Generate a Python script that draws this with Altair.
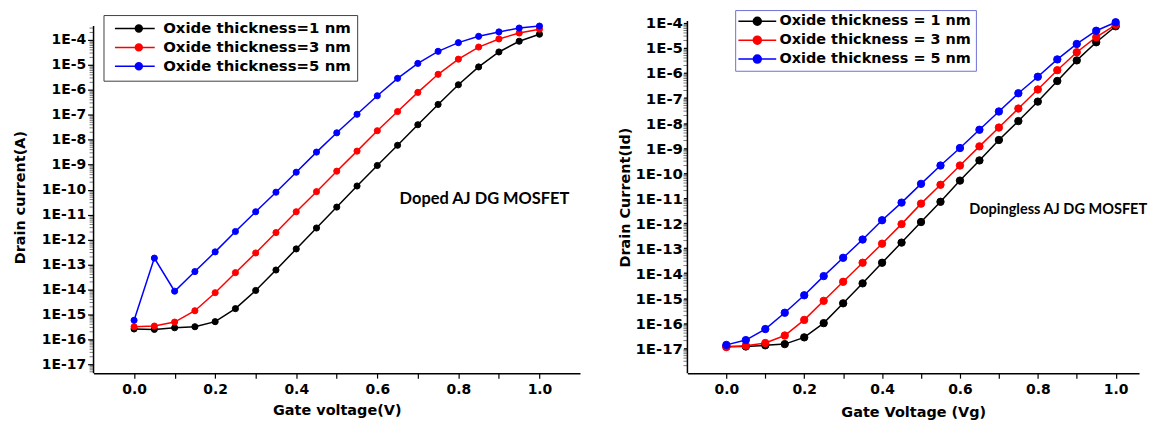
import altair as alt
import pandas as pd

# ---------------- data ----------------
gate_v = [0.0, 0.05, 0.1, 0.15, 0.2, 0.25, 0.3, 0.35, 0.4, 0.45, 0.5,
          0.55, 0.6, 0.65, 0.7, 0.75, 0.8, 0.85, 0.9, 0.95, 1.0]

left_names = ["Oxide thickness=1 nm", "Oxide thickness=3 nm", "Oxide thickness=5 nm"]
right_names = ["Oxide thickness = 1 nm", "Oxide thickness = 3 nm", "Oxide thickness = 5 nm"]
colors = ["#000000", "#ff0000", "#0000ff"]

left_1nm = [2.6e-16, 2.5e-16, 2.9e-16, 3.2e-16, 5.1e-16, 1.7e-15, 9.1e-15, 6.0e-14, 4.2e-13, 2.9e-12,
            2.0e-11, 1.4e-10, 9.3e-10, 6.0e-9, 4.0e-8, 2.6e-7, 1.6e-6, 8.3e-6, 3.3e-5, 8.9e-5, 1.7e-4]
left_3nm = [3.2e-16, 3.4e-16, 4.9e-16, 1.4e-15, 7.4e-15, 4.7e-14, 2.9e-13, 1.9e-12, 1.3e-11, 8.3e-11,
            5.5e-10, 3.5e-9, 2.3e-8, 1.35e-7, 7.9e-7, 4.2e-6, 1.7e-5, 5.2e-5, 1.1e-4, 1.9e-4, 2.7e-4]
left_5nm = [5.8e-16, 1.8e-13, 8.5e-15, 5.2e-14, 3.2e-13, 2.1e-12, 1.3e-11, 7.9e-11, 5.0e-10, 3.2e-9,
            1.9e-8, 1.05e-7, 5.8e-7, 2.9e-6, 1.15e-5, 3.5e-5, 7.8e-5, 1.4e-4, 2.1e-4, 3.0e-4, 3.6e-4]

right_1nm = [1.17e-17, 1.17e-17, 1.3e-17, 1.45e-17, 2.7e-17, 1.0e-16, 6.2e-16, 3.9e-15, 2.6e-14, 1.66e-13,
             1.1e-12, 7.1e-12, 5.0e-11, 3.2e-10, 2.1e-9, 1.2e-8, 7.2e-8, 4.8e-7, 3.2e-6, 1.7e-5, 7.4e-5]
right_3nm = [1.1e-17, 1.26e-17, 1.6e-17, 3.2e-17, 1.35e-16, 7.8e-16, 4.5e-15, 2.6e-14, 1.5e-13, 9.1e-13,
             6.0e-12, 3.4e-11, 2.0e-10, 1.17e-9, 6.6e-9, 3.8e-8, 2.2e-7, 1.3e-6, 6.8e-6, 2.7e-5, 8.5e-5]
right_5nm = [1.35e-17, 2.1e-17, 5.8e-17, 2.6e-16, 1.3e-15, 7.6e-15, 4.1e-14, 2.2e-13, 1.3e-12, 6.6e-12,
             3.7e-11, 2.0e-10, 1.0e-9, 5.4e-9, 2.9e-8, 1.55e-7, 7.1e-7, 3.5e-6, 1.45e-5, 4.9e-5, 1.07e-4]

y_ticks = [1e-4, 1e-5, 1e-6, 1e-7, 1e-8, 1e-9, 1e-10, 1e-11, 1e-12, 1e-13, 1e-14, 1e-15, 1e-16, 1e-17]
x_ticks = [0.0, 0.1, 0.2, 0.3, 0.4, 0.5, 0.6, 0.7, 0.8, 0.9, 1.0]
minor_mult = [2, 3, 4, 5, 6, 7, 8, 9]
minor_exp = list(range(-18, -3))

# axis line extents (x at left edge, y range)
left_axis_line = {"x": [-0.1], "y": [3.6e-4], "y2": [4.4e-18]}
right_axis_line = {"x": [-0.1], "y": [1.2e-4], "y2": [1e-18]}

left_note = {"x": [0.655], "y": [4.3e-11], "text": ["Doped AJ DG MOSFET"]}
right_note = {"x": [0.624], "y": [3.3e-12], "text": ["Dopingless AJ DG MOSFET"]}


def long_df(names, series):
    rows = []
    for name, vals in zip(names, series):
        for v, i in zip(gate_v, vals):
            rows.append({"Vg": v, "Id": i, "series": name})
    return pd.DataFrame(rows)


def panel(names, series, note, note_size, ydom, xdom, width, height, axis_line,
          ytitle, xtitle, ylab_size, tick_size, lab_pad, ttl_pad_y, ttl_pad_x, pt_size,
          leg_x, leg_y, leg_stroke, leg_font, leg_pad, sym_path, lab_off):
    df = long_df(names, series)
    xs = alt.Scale(domain=xdom, nice=False, zero=False)
    ys = alt.Scale(type="log", domain=ydom, nice=False)
    cs = alt.Scale(domain=names, range=colors)
    legend = alt.Legend(
        title=None, orient="none", legendX=leg_x, legendY=leg_y,
        direction="vertical", strokeColor=leg_stroke, fillColor="white",
        padding=leg_pad, labelFont="DejaVu Sans", labelFontWeight="bold",
        labelFontSize=leg_font, labelColor="black", labelLimit=400,
        symbolType=sym_path, symbolSize=100, symbolStrokeWidth=1.5,
        labelOffset=lab_off, rowPadding=3, cornerRadius=0,
    )
    xaxis = alt.Axis(
        values=x_ticks, title=xtitle,
        labelExpr="round(datum.value*10) % 2 == 0 ? format(datum.value, '.1f') : ''",
        labelFont="DejaVu Sans", labelFontWeight="bold", labelFontSize=14,
        labelColor="black", titleFont="DejaVu Sans", titleFontWeight="bold",
        titleFontSize=14.5, titleColor="black", tickSize=5, tickColor="black",
        tickWidth=1.2, domainColor="black", domainWidth=1.5, labelPadding=4,
        titlePadding=ttl_pad_x, grid=False, labelFlush=False,
    )
    yaxis = alt.Axis(
        values=y_ticks, title=ytitle, domain=False,
        labelExpr="'1E' + round(log(datum.value)/LN10)",
        labelFont="DejaVu Sans", labelFontWeight="bold", labelFontSize=ylab_size,
        labelColor="black", titleFont="DejaVu Sans", titleFontWeight="bold",
        titleFontSize=14.5, titleColor="black", tickSize=tick_size, tickColor="black",
        tickWidth=1.2, labelPadding=lab_pad,
        titlePadding=ttl_pad_y, grid=False, labelOverlap=False, labelFlush=False,
    )
    base = alt.Chart(df)
    lines = base.mark_line(strokeWidth=1.5).encode(
        x=alt.X("Vg:Q", scale=xs, axis=xaxis),
        y=alt.Y("Id:Q", scale=ys, axis=yaxis),
        stroke=alt.Stroke("series:N", scale=cs, legend=legend, sort=names),
    )
    points = base.mark_point(filled=True, size=pt_size, opacity=1, strokeWidth=1).encode(
        x=alt.X("Vg:Q", scale=xs),
        y=alt.Y("Id:Q", scale=ys),
        fill=alt.Fill("series:N", scale=cs, legend=legend, sort=names),
        stroke=alt.Stroke("series:N", scale=cs, legend=legend, sort=names),
    )
    minor_vals = [m * 10.0 ** e for e in minor_exp for m in minor_mult
                  if axis_line["y2"][0] <= m * 10.0 ** e <= axis_line["y"][0]]
    minor = alt.Chart(pd.DataFrame({"m": minor_vals})).mark_rule(
        stroke="black", strokeWidth=0.7, opacity=0.75
    ).encode(y=alt.Y("m:Q", scale=ys), x=alt.value(-4), x2=alt.value(0))
    yline = alt.Chart(pd.DataFrame(axis_line)).mark_rule(
        stroke="black", strokeWidth=1.5
    ).encode(x=alt.X("x:Q", scale=xs), y=alt.Y("y:Q", scale=ys), y2="y2:Q")
    text = alt.Chart(pd.DataFrame(note)).mark_text(
        align="left", baseline="middle", font="Lato", fontWeight="bold",
        fontSize=note_size, color="black"
    ).encode(x=alt.X("x:Q", scale=xs), y=alt.Y("y:Q", scale=ys), text="text:N")
    return alt.layer(minor, yline, lines, points, text).properties(width=width, height=height)


# legend symbols: a short line with a filled dot (unit = 5 px at symbolSize 100)
l_sym = "M-0.4,0L7.6,0M5.1,0A0.7,0.7,0,1,1,3.7,0A0.7,0.7,0,1,1,5.1,0Z"
r_sym = "M-1.6,0L6.0,0M3.0,0A0.8,0.8,0,1,1,1.4,0A0.8,0.8,0,1,1,3.0,0Z"

left = panel(left_names, [left_1nm, left_3nm, left_5nm], left_note, 16.5,
             [4.4e-18, 5.75e-4], [-0.1, 1.1], 489, 354, left_axis_line,
             "Drain current(A)", "Gate voltage(V)",
             14, 6, 2, 14, 8, 38,
             10, -6, "#404040", 15, 6, l_sym, 39)

right = panel(right_names, [right_1nm, right_3nm, right_5nm], right_note, 14.6,
              [1e-18, 1.2e-4], [-0.1, 1.06], 454, 354, right_axis_line,
              "Drain Current(Id)", "Gate Voltage (Vg)",
              15, 4, 1, 2, 10, 55,
              48, -11, "#6f6fd8", 14.5, 4, r_sym, 26)

chart = alt.hconcat(left, right, spacing=38).resolve_scale(
    x="independent", y="independent", stroke="independent", fill="independent"
).resolve_legend(stroke="independent", fill="independent").configure_view(
    stroke=None
).properties(
    padding={"left": 4, "top": 0, "right": 0, "bottom": 0}
)

chart.save("out.html", embed_options={"renderer": "svg", "actions": False})
